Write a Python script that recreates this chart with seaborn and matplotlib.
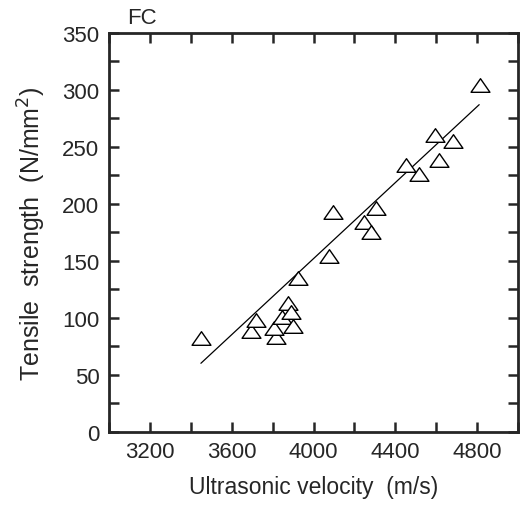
import numpy as np
import pandas as pd
import matplotlib
matplotlib.use("Agg")
import matplotlib.pyplot as plt
from matplotlib.path import Path
from matplotlib.ticker import MultipleLocator
import seaborn as sns

velocity = [3449, 3693, 3717, 3815, 3806, 3844, 3876, 3891, 3901, 3925,
            4076, 4096, 4246, 4282, 4307, 4454, 4517, 4595, 4615, 4683, 4815]
strength = [82, 88, 98, 83, 91, 101, 113, 105, 93, 135,
            154, 193, 184, 175, 196, 234, 226, 260, 238, 255, 304]
# regression line as drawn in the figure (end points)
fit_velocity = [3449, 4810]
fit_strength = [60, 287]
x_ticks = [3200, 3600, 4000, 4400, 4800]
y_ticks = [0, 50, 100, 150, 200, 250, 300, 350]

df = pd.DataFrame({"velocity": velocity, "strength": strength})
fit = pd.DataFrame({"velocity": fit_velocity, "strength": fit_strength})

sns.set_style("ticks")
plt.rcParams["font.family"] = ["Liberation Sans", "DejaVu Sans"]

fig = plt.figure(figsize=(5.27, 5.06), dpi=100)
ax = fig.add_axes([0.207, 0.145, 0.776, 0.788])

sns.lineplot(data=fit, x="velocity", y="strength", color="black", lw=0.9,
             ax=ax)

tri = Path([(-1, -0.72), (1, -0.72), (0, 0.72), (-1, -0.72)],
           [Path.MOVETO, Path.LINETO, Path.LINETO, Path.CLOSEPOLY])
sns.scatterplot(data=df, x="velocity", y="strength", marker=tri, s=185,
                facecolor="white", edgecolor="black", linewidth=1.0,
                zorder=3, ax=ax)

ax.set_xlim(3000, 5000)
ax.set_ylim(0, 350)
ax.set_xticks(x_ticks)
ax.set_yticks(y_ticks)
ax.xaxis.set_minor_locator(MultipleLocator(200))
ax.yaxis.set_minor_locator(MultipleLocator(25))
ax.tick_params(which="both", direction="in", top=True, right=True,
               length=7, width=1.8, labelsize=16, pad=7)
ax.tick_params(axis="x", labeltop=False)
ax.tick_params(axis="y", labelright=False)
for s in ax.spines.values():
    s.set_linewidth(2.0)
    s.set_visible(True)

ax.set_xlabel("Ultrasonic velocity  (m/s)", fontsize=16.5, labelpad=9)
ax.set_ylabel("Tensile  strength  (N/mm$^2$)", fontsize=18, labelpad=10)
ax.text(0.045, 1.012, "FC", transform=ax.transAxes, fontsize=16,
        ha="left", va="bottom")

fig.savefig("out.png", dpi=100)
